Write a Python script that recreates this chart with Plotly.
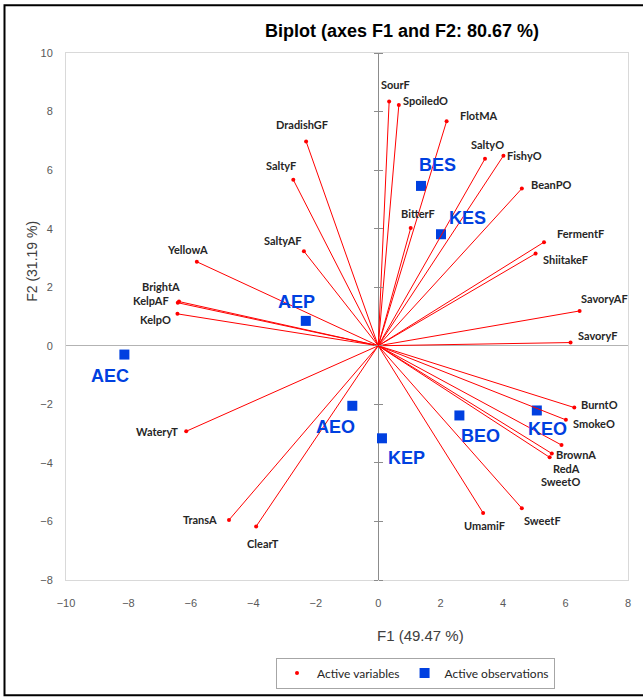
import plotly.graph_objects as go

# ---- data ----
var_names = ["SourF", "SpoiledO", "FlotMA", "DradishGF", "SaltyF", "SaltyO", "FishyO",
             "BeanPO", "BitterF", "SaltyAF", "FermentF", "ShiitakeF", "YellowA", "BrightA",
             "KelpAF", "KelpO", "SavoryAF", "SavoryF", "BurntO", "SmokeO", "BrownA",
             "RedA", "SweetO", "WateryT", "TransA", "ClearT", "UmamiF", "SweetF"]
var_f1 = [0.35, 0.66, 2.19, -2.31, -2.72, 3.42, 4.01,
          4.60, 1.04, -2.38, 5.31, 5.04, -5.81, -6.38,
          -6.42, -6.43, 6.45, 6.16, 6.28, 6.01, 5.56,
          5.87, 5.49, -6.15, -4.78, -3.91, 3.36, 4.60]
var_f2 = [8.34, 8.22, 7.67, 6.98, 5.67, 6.39, 6.49,
          5.37, 4.02, 3.23, 3.54, 3.15, 2.87, 1.51,
          1.47, 1.09, 1.19, 0.11, -2.11, -2.53, -3.68,
          -3.39, -3.81, -2.92, -5.95, -6.17, -5.71, -5.55]
# label offsets in pixels (dx right, dy down)
var_dx = [6, 27, 32, -4, -12, 2, 21, 30, 7, -21, 36, 30, -9, -18, -27, -22, 25, 27,
          25, 28, 24, 5, 11, -29, -29, 7, 1, 21]
var_dy = [-17, -5, -6, -17, -14, -14, 0, -4, -15, -11, -9, 6, -12, -15, -2, 6, -12, -7,
          -3, 4, 1, 23, 24, 0, 0, 17, 13, 12]

obs_names = ["AEP", "AEC", "AEO", "KEP", "BEO", "KEO", "BES", "KES"]
obs_f1 = [-2.32, -8.13, -0.83, 0.12, 2.60, 5.08, 1.37, 2.01]
obs_f2 = [0.85, -0.30, -2.05, -3.16, -2.38, -2.21, 5.46, 3.81]
obs_dx = [-9, -14, -17, 25, 21, 11, 16, 27]
obs_dy = [-19, 21, 21, 20, 21, 19, -21, -16]

x_range = [-10, 8]
y_range = [-8, 10]
tick_step = 2

title_text = "Biplot (axes F1 and F2: 80.67 %)"
x_title = "F1 (49.47 %)"
y_title = "F2 (31.19 %)"

RED = "#ff0000"
BLUE = "#0040e0"

fig = go.Figure()

# observations (drawn beneath the vectors)
fig.add_trace(go.Scatter(
    x=obs_f1, y=obs_f2, mode="markers", name="Active observations",
    marker=dict(symbol="square", size=10, color=BLUE, line=dict(width=0)),
    legendrank=2, hoverinfo="text", text=obs_names))

# vectors from origin
lx, ly = [], []
for a, b in zip(var_f1, var_f2):
    lx += [0, a, None]
    ly += [0, b, None]
fig.add_trace(go.Scatter(x=lx, y=ly, mode="lines", line=dict(color=RED, width=1),
                         showlegend=False, hoverinfo="skip"))
fig.add_trace(go.Scatter(
    x=var_f1, y=var_f2, mode="markers", name="Active variables",
    marker=dict(size=4, color=RED), legendrank=1, hoverinfo="text", text=var_names))

for n, a, b, dx, dy in zip(var_names, var_f1, var_f2, var_dx, var_dy):
    fig.add_annotation(x=a, y=b, text=n, showarrow=False, xshift=dx, yshift=-dy,
                       xanchor="center", yanchor="middle",
                       font=dict(family="Lato", size=11, color="#262626", weight="bold"))

for n, a, b, dx, dy in zip(obs_names, obs_f1, obs_f2, obs_dx, obs_dy):
    fig.add_annotation(x=a, y=b, text=n, showarrow=False, xshift=dx, yshift=-dy,
                       xanchor="center", yanchor="middle",
                       font=dict(family="Liberation Sans", size=18, color=BLUE, weight="bold"))

ticks_x = list(range(x_range[0], x_range[1] + 1, tick_step))
ticks_y = list(range(y_range[0], y_range[1] + 1, tick_step))

L, R, T, B = 66, 15, 53, 117
W, H = 643, 700
pw, ph = W - L - R, H - T - B

axis_font = dict(family="Liberation Sans", size=11, color="#595959")
fig.update_layout(
    width=W, height=H,
    margin=dict(l=L, r=R, t=T, b=B, pad=0),
    paper_bgcolor="white", plot_bgcolor="white",
    showlegend=True,
    legend=dict(orientation="h", x=(276 - L) / pw, xanchor="left",
                y=(H - B - 661) / ph, yanchor="top",
                bordercolor="#a6a6a6", borderwidth=1,
                font=dict(family="Lato", size=12, color="#262626"),
                itemwidth=30, tracegroupgap=0),
    xaxis=dict(range=x_range, tickvals=ticks_x, showgrid=False,
               zeroline=True, zerolinecolor="#8c8c8c", zerolinewidth=1,
               showline=True, mirror=True, linecolor="#d9d9d9", linewidth=1,
               ticks="", tickfont=axis_font, ticklabelstandoff=13),
    yaxis=dict(range=y_range, tickvals=ticks_y, showgrid=False,
               zeroline=True, zerolinecolor="#b3b3b3", zerolinewidth=1,
               showline=True, mirror=True, linecolor="#d9d9d9", linewidth=1,
               ticks="", tickfont=axis_font, ticklabelstandoff=10),
    yaxis2=dict(overlaying="y", anchor="free",
                position=(0 - x_range[0]) / (x_range[1] - x_range[0]),
                range=y_range, tickvals=ticks_y, ticks="outside", ticklen=4,
                tickcolor="#8c8c8c", showticklabels=False, showline=False,
                showgrid=False, zeroline=False),
    yaxis3=dict(overlaying="y", anchor="free", side="right",
                position=(0 - x_range[0]) / (x_range[1] - x_range[0]),
                range=y_range, tickvals=ticks_y, ticks="outside", ticklen=4,
                tickcolor="#8c8c8c", showticklabels=False, showline=False,
                showgrid=False, zeroline=False),
)

# invisible traces to register the tick axes
fig.add_trace(go.Scatter(x=[None], y=[None], yaxis="y2", showlegend=False, hoverinfo="skip"))
fig.add_trace(go.Scatter(x=[None], y=[None], yaxis="y3", showlegend=False, hoverinfo="skip"))

# titles
fig.add_annotation(text=title_text, xref="paper", yref="paper",
                   x=(402 - L) / pw, y=(H - B - 31) / ph, showarrow=False,
                   xanchor="center", yanchor="middle",
                   font=dict(family="Liberation Sans", size=18, color="#000000", weight="bold"))
fig.add_annotation(text=x_title, xref="paper", yref="paper",
                   x=(420 - L) / pw, y=(H - B - 639) / ph, showarrow=False,
                   xanchor="center", yanchor="middle",
                   font=dict(family="Liberation Sans", size=15, color="#404040"))
fig.add_annotation(text=y_title, xref="paper", yref="paper", textangle=-90,
                   x=(32 - L) / pw, y=(H - B - 263) / ph, showarrow=False,
                   xanchor="center", yanchor="middle",
                   font=dict(family="Liberation Sans", size=14, color="#404040"))

# outer frame
fig.add_shape(type="rect", xref="paper", yref="paper", layer="above",
              x0=(4.5 - L) / pw, x1=(660 - L) / pw,
              y0=(H - B - 699) / ph, y1=(H - B - 5) / ph,
              line=dict(color="#000000", width=2))

fig.write_html("out.html")
